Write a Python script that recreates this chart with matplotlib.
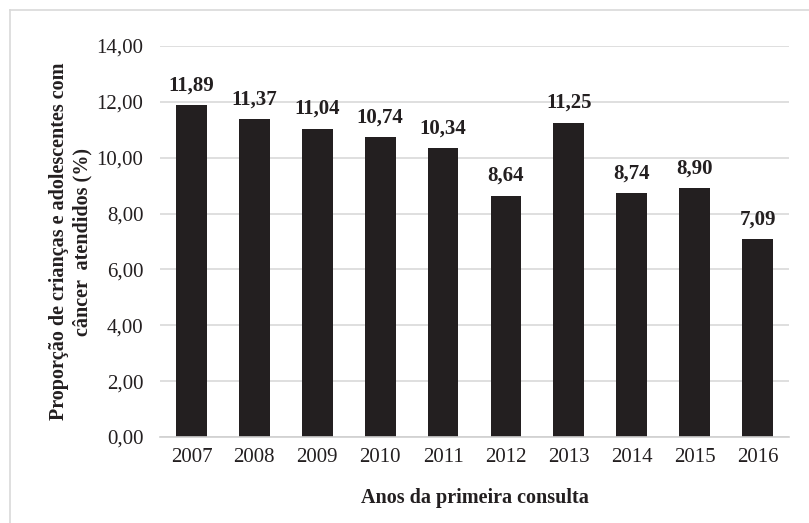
import matplotlib
matplotlib.use("Agg")
import matplotlib.pyplot as plt
from matplotlib.lines import Line2D

years = ["2007", "2008", "2009", "2010", "2011", "2012", "2013", "2014", "2015", "2016"]
values = [11.89, 11.37, 11.04, 10.74, 10.34, 8.64, 11.25, 8.74, 8.90, 7.09]
yticks = [0, 2, 4, 6, 8, 10, 12, 14]

plt.rcParams['font.family'] = ['Liberation Serif', 'DejaVu Serif']

fig = plt.figure(figsize=(8.09, 5.23), dpi=100)
ax = fig.add_axes([160/809, 1-437/523, (789-160)/809, (437-46)/523])

x = list(range(len(years)))
bars = ax.bar(x, values, width=0.49, color='#231f20', zorder=3)
for xi, v in zip(x, values):
    ax.annotate(f"{v:.2f}".replace('.', ','), (xi, v), xytext=(0, 7),
                textcoords='offset points', ha='center', va='bottom',
                fontsize=15, fontweight='bold', color='#231f20')

ax.set_xlim(-0.5, len(years) - 0.5)
ax.set_ylim(0, 14)
ax.set_yticks(yticks)
ax.set_yticklabels([f"{t:.2f}".replace('.', ',') for t in yticks])
ax.set_xticks(x)
ax.set_xticklabels(years)
ax.tick_params(axis='both', length=0, labelsize=15, colors='#231f20')
ax.tick_params(axis='y', pad=12)
ax.tick_params(axis='x', pad=8)
ax.grid(axis='y', color='#d9d9d9', linewidth=1.2, zorder=0)
for s in ['top', 'right', 'left']:
    ax.spines[s].set_visible(False)
ax.spines['bottom'].set_color('#d0d0d0')
ax.spines['bottom'].set_linewidth(1.2)
ax.spines['bottom'].set_zorder(4)

ax.set_ylabel("Proporção de crianças e adolescentes com\ncâncer  atendidos (%)",
              fontsize=14.5, fontweight='bold', color='#231f20', labelpad=3,
              linespacing=1.2)
ax.set_xlabel("Anos da primeira consulta", fontsize=14.5, fontweight='bold',
              color='#231f20', labelpad=15)

# outer light border (left and top visible)
fig.add_artist(Line2D([10/809, 10/809], [0, 1-10/523], transform=fig.transFigure,
                      color='#d9d9d9', linewidth=1.2))
fig.add_artist(Line2D([10/809, 1], [1-10/523, 1-10/523], transform=fig.transFigure,
                      color='#d9d9d9', linewidth=1.2))

fig.savefig("out.png", dpi=100)
